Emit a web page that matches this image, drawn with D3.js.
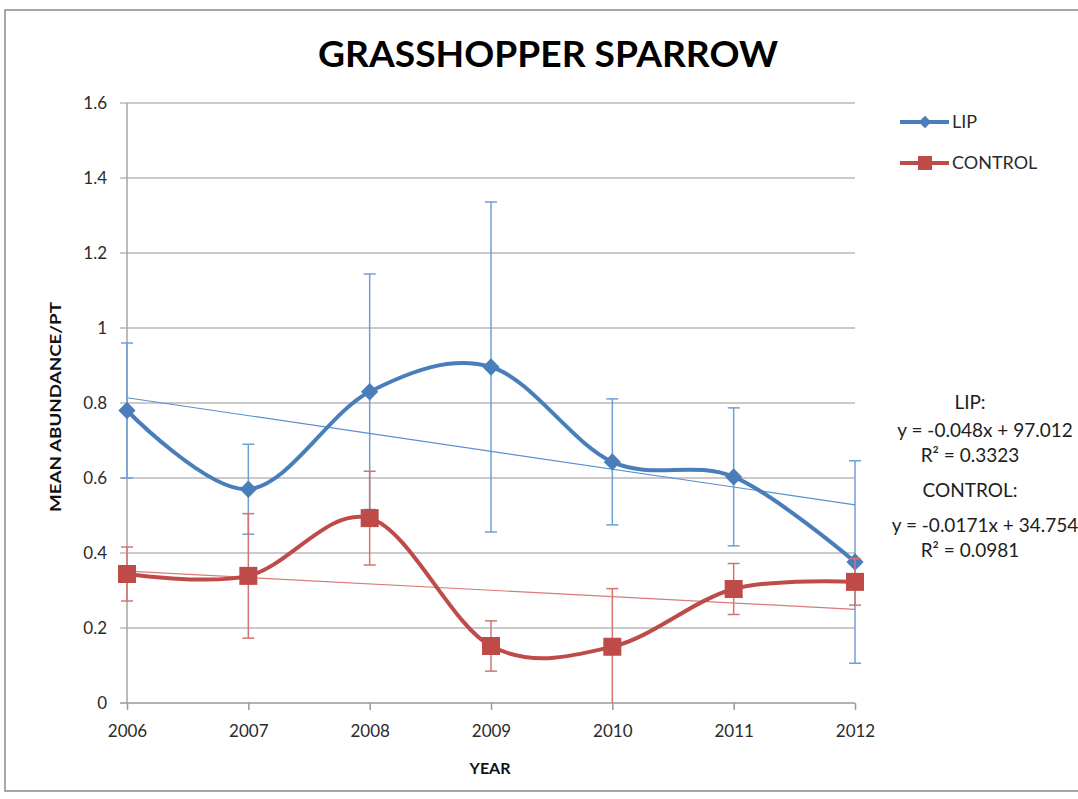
<meta charset="utf-8">
<script src="https://d3js.org/d3.v7.min.js"></script>
<style>
body { margin:0; background:white; overflow:hidden; }
text { font-family: Lato, "Open Sans", sans-serif; }
</style>
<body>
<div id="chart"></div>
<script>
var years = [2006, 2007, 2008, 2009, 2010, 2011, 2012];
var lipMean = [0.78, 0.57, 0.83, 0.896, 0.643, 0.603, 0.376];
var lipErr = [0.18, 0.12, 0.314, 0.44, 0.168, 0.184, 0.27];
var controlMean = [0.344, 0.339, 0.493, 0.152, 0.15, 0.304, 0.323];
var controlErr = [0.072, 0.166, 0.125, 0.067, 0.155, 0.068, 0.062];
var yTicks = [0, 0.2, 0.4, 0.6, 0.8, 1, 1.2, 1.4, 1.6];
var seriesNames = ['LIP', 'CONTROL'];
var eqLines = ['LIP:', 'y = -0.048x + 97.012', 'R\u00b2 = 0.3323', 'CONTROL:', 'y = -0.0171x + 34.754', 'R\u00b2 = 0.0981'];

var width = 1078, height = 799,
	plotLeft = 127, plotRight = 855, plotTop = 103, plotBottom = 703;

var blue = '#4a7ebb', red = '#be4b48';

var svg = d3.select('#chart').append('svg')
	.attr('width', width)
	.attr('height', height);

// chart border
svg.append('rect')
	.attr('x', 5).attr('y', 10)
	.attr('width', 1200).attr('height', 781)
	.attr('fill', 'none')
	.attr('stroke', '#8a8a8a')
	.attr('stroke-width', 1.5);

var x = d3.scaleLinear().domain([2006, 2012]).range([plotLeft, plotRight]);
var y = d3.scaleLinear().domain([0, 1.6]).range([plotBottom, plotTop]);

// grid
svg.append('g').selectAll('line')
	.data(yTicks)
	.enter().append('line')
	.attr('x1', plotLeft - 7).attr('x2', plotRight)
	.attr('y1', function(d) { return y(d); })
	.attr('y2', function(d) { return y(d); })
	.attr('stroke', function(d) { return d === 0 ? '#999' : '#b9b9b9'; })
	.attr('stroke-width', 1.6);

svg.append('line')
	.attr('x1', plotLeft).attr('x2', plotLeft)
	.attr('y1', plotTop).attr('y2', plotBottom)
	.attr('stroke', '#aaa').attr('stroke-width', 1.6);

// y axis labels
var yAxis = d3.axisLeft(y).tickValues(yTicks).tickSize(0).tickPadding(20)
	.tickFormat(function(d) { return String(+d.toFixed(1)); });
var gy = svg.append('g').attr('transform', 'translate(' + plotLeft + ',0)').call(yAxis);
gy.select('.domain').remove();
gy.selectAll('text').style('font-size', '17px').style('font-family', 'Lato, sans-serif').style('fill', '#2b2b2b');

// x axis
var xAxis = d3.axisBottom(x).tickValues(years).tickSize(7).tickPadding(15).tickFormat(d3.format('d'));
var gx = svg.append('g').attr('transform', 'translate(0,' + plotBottom + ')').call(xAxis);
gx.select('.domain').remove();
gx.selectAll('line').attr('stroke', '#999').attr('stroke-width', 1.5);
gx.selectAll('text').style('font-size', '17px').style('font-family', 'Lato, sans-serif').style('fill', '#2b2b2b');

// axis titles
svg.append('text')
	.attr('x', 490).attr('y', 774)
	.attr('text-anchor', 'middle')
	.style('font-size', '16px').style('font-weight', 'bold')
	.style('fill', '#111')
	.text('YEAR');

svg.append('text')
	.attr('transform', 'translate(61,407) rotate(-90)')
	.attr('text-anchor', 'middle')
	.attr('textLength', 210).attr('lengthAdjust', 'spacingAndGlyphs')
	.style('font-size', '15px').style('font-weight', 'bold')
	.style('fill', '#111')
	.text('MEAN ABUNDANCE/PT');

// title
svg.append('text')
	.attr('x', 548).attr('y', 67)
	.attr('text-anchor', 'middle')
	.attr('textLength', 460).attr('lengthAdjust', 'spacingAndGlyphs')
	.style('font-size', '37px').style('font-weight', 'bold')
	.style('fill', '#000')
	.text('GRASSHOPPER SPARROW');

// trend line from least squares
var fit = function(vals) {
	var mx = d3.mean(years), my = d3.mean(vals);
	var sxy = d3.sum(years, function(d, i) { return (d - mx) * (vals[i] - my); });
	var sxx = d3.sum(years, function(d) { return (d - mx) * (d - mx); });
	var b = sxy / sxx;
	return function(t) { return my + b * (t - mx); };
};

var series = [
	{name: seriesNames[0], mean: lipMean, err: lipErr, color: blue, errColor: '#6f9fd6', trendColor: '#5b8fd0'},
	{name: seriesNames[1], mean: controlMean, err: controlErr, color: red, errColor: '#d47472', trendColor: '#d97b79'}
];

var line = d3.line()
	.x(function(d) { return x(d.year); })
	.y(function(d) { return y(d.v); })
	.curve(d3.curveCardinal.tension(0));

series.forEach(function(s) {
	var pts = years.map(function(yr, i) { return {year: yr, v: s.mean[i], e: s.err[i]}; });
	var g = svg.append('g');

	// error bars
	pts.forEach(function(p) {
		var lo = Math.max(0, p.v - p.e), hi = p.v + p.e;
		g.append('line')
			.attr('x1', x(p.year)).attr('x2', x(p.year))
			.attr('y1', y(lo)).attr('y2', y(hi))
			.attr('stroke', s.errColor).attr('stroke-width', 1.5);
		[lo, hi].forEach(function(v) {
			if (v <= 0) return;
			g.append('line')
				.attr('x1', x(p.year) - 6).attr('x2', x(p.year) + 6)
				.attr('y1', y(v)).attr('y2', y(v))
				.attr('stroke', s.errColor).attr('stroke-width', 1.5);
		});
	});

	// trend
	var f = fit(s.mean);
	g.append('line')
		.attr('x1', x(2006)).attr('x2', x(2012))
		.attr('y1', y(f(2006))).attr('y2', y(f(2012)))
		.attr('stroke', s.trendColor).attr('stroke-width', 1.2);

	g.append('path')
		.datum(pts)
		.attr('d', line)
		.attr('fill', 'none')
		.attr('stroke', s.color)
		.attr('stroke-width', 4);
	s.pts = pts;
	s.g = g;
});

// markers
var diamond = d3.symbol().type(d3.symbolDiamond2).size(190);
series[0].g.selectAll('path.m')
	.data(series[0].pts)
	.enter().append('path')
	.attr('class', 'm')
	.attr('d', diamond)
	.attr('transform', function(d) { return 'translate(' + x(d.year) + ',' + y(d.v) + ')'; })
	.attr('fill', blue);

series[1].g.selectAll('rect.m')
	.data(series[1].pts)
	.enter().append('rect')
	.attr('class', 'm')
	.attr('x', function(d) { return x(d.year) - 9; })
	.attr('y', function(d) { return y(d.v) - 9; })
	.attr('width', 18).attr('height', 18)
	.attr('fill', red);

// legend
var legend = svg.append('g');
series.forEach(function(s, i) {
	var ly = 122 + i * 41;
	legend.append('line')
		.attr('x1', 900).attr('x2', 949)
		.attr('y1', ly).attr('y2', ly)
		.attr('stroke', s.color).attr('stroke-width', 4);
	if (i === 0) {
		legend.append('path').attr('d', d3.symbol().type(d3.symbolDiamond2).size(100))
			.attr('transform', 'translate(925,' + ly + ')').attr('fill', s.color);
	} else {
		legend.append('rect').attr('x', 918).attr('y', ly - 7).attr('width', 14).attr('height', 14)
			.attr('fill', s.color);
	}
	legend.append('text')
		.attr('x', 952).attr('y', ly + 6)
		.style('font-size', '18px')
		.style('fill', '#2b2b2b')
		.text(s.name);
});

// equations
var eqY = [402, 430, 455, 490, 525, 550];
svg.append('g').selectAll('text')
	.data(eqLines)
	.enter().append('text')
	.attr('x', function(d, i) { return i === 1 || i === 4 ? 985 : 970; })
	.attr('y', function(d, i) { return eqY[i] + 7; })
	.attr('text-anchor', 'middle')
	.style('font-size', '19px')
	.style('fill', '#1e1e1e')
	.text(function(d) { return d; });
</script>
</body>
